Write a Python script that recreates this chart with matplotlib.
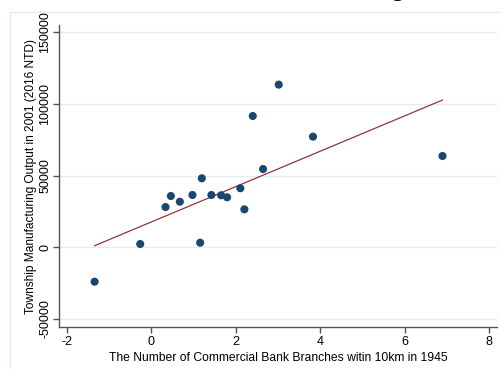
import numpy as np
import matplotlib
matplotlib.use("Agg")
import matplotlib.pyplot as plt
from matplotlib.patches import Rectangle

plt.rcParams["font.family"] = ["Liberation Sans", "DejaVu Sans"]
plt.rcParams["axes.unicode_minus"] = False

# commercial bank branches within 10km (1945), standardized
branches = [-1.346, -0.265, 0.334, 0.461, 0.674, 0.973, 1.155, 1.195, 1.422,
            1.652, 1.794, 2.108, 2.203, 2.402, 2.646, 3.017, 3.829, 6.898]
# township manufacturing output in 2001 (2016 NTD)
output = [-24000, 2300, 28100, 35800, 31800, 36500, 3200, 48150, 36500,
          36300, 34900, 41200, 26500, 91600, 54600, 113500, 77200, 63700]

# fitted values line: intercept and slope
fit_intercept = 17700
fit_slope = 12330

x_ticks = [-2, 0, 2, 4, 6, 8]
y_ticks = [-50000, 0, 50000, 100000, 150000]

navy = "#1a476f"
maroon = "#90353b"
grid_col = "#e3eeef"
axis_col = "#555555"

fig = plt.figure(figsize=(5.01, 3.69), dpi=100)
ax = fig.add_axes([59 / 501, 1 - 327 / 369, (497 - 59) / 501, (327 - 25) / 369])

xs = np.array([min(branches), max(branches)])
ax.plot(xs, fit_intercept + fit_slope * xs, color=maroon, lw=0.9, zorder=2)

ax.scatter(branches, output, s=34, color=navy, edgecolors="none", zorder=3)

ax.set_xlim(-2.19, 8.19)
ax.set_ylim(-55600, 155100)
ax.set_xticks(x_ticks)
ax.set_yticks(y_ticks)
ax.set_yticklabels([str(v) for v in y_ticks], rotation=90, va="center")
ax.yaxis.grid(True, color=grid_col, lw=1.0)
ax.set_axisbelow(True)

for side in ["top", "right"]:
    ax.spines[side].set_visible(False)
for side in ["left", "bottom"]:
    ax.spines[side].set_color(axis_col)
    ax.spines[side].set_linewidth(1.0)
ax.tick_params(direction="out", length=4, width=1.0, color=axis_col,
               labelsize=9, labelcolor="black", pad=2.5)
ax.tick_params(axis="y", pad=1.5)

ax.set_xlabel("The Number of Commercial Bank Branches witin 10km in 1945",
              fontsize=8.7, labelpad=3)
ax.set_ylabel("Township Manufacturing Output in 2001 (2016 NTD)",
              fontsize=8.6, labelpad=2)

# outer graph region border
fig.patches.append(Rectangle((9.5 / 501, -0.1), 1.2, 1 - 12 / 369 + 0.1,
                             transform=fig.transFigure, fill=False,
                             edgecolor="#e2eced", lw=1.0))
# tail of the page title above the figure
fig.text(398 / 501, 1 + 4 / 369, "g", family="Liberation Serif",
         fontsize=17, ha="center", va="baseline")

fig.savefig("out.png", dpi=100)
